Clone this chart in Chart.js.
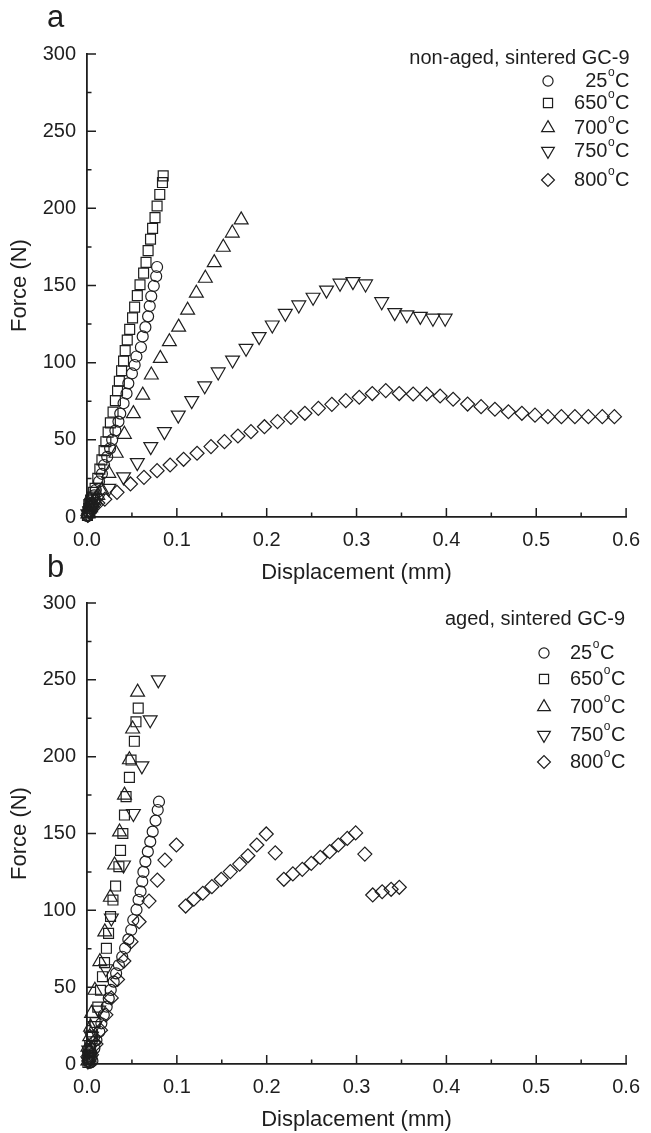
<!DOCTYPE html>
<html lang="en">
<head>
<meta charset="UTF-8">
<title>Force vs displacement, sintered GC-9</title>
<script src="https://cdn.jsdelivr.net/npm/chart.js"></script>
<style>
  body { margin: 0; background: #fff; width: 651px; height: 1133px; position: relative; overflow: hidden; }
  .panel { position: absolute; left: 0; width: 651px; }
  #wrapA { top: 0; height: 600px; }
  #wrapB { top: 540px; height: 593px; }
</style>
</head>
<body>
<div class="panel" id="wrapA"><canvas id="chartA"></canvas></div>
<div class="panel" id="wrapB"><canvas id="chartB"></canvas></div>

<script>
// series names and tick labels
const temps = ['25', '650', '700', '750', '800'];
const xTicks = [0, 0.1, 0.2, 0.3, 0.4, 0.5, 0.6];
const yTicks = [0, 50, 100, 150, 200, 250, 300];

// panel a: non-aged, [displacement mm, force N]
const a25 = [[0.0005,0.5],[0.001,1],[0.002,3],[0.003,6.7],[0.004,4],[0.005,9],[0.006,12],[0.008,14],[0.0098,17.5],[0.0134,23],[0.0166,28],[0.019,33.7],[0.0225,39],[0.0257,44.5],[0.028,50],[0.0316,56],[0.035,61.8],[0.037,67],[0.0407,73.7],[0.044,80],[0.046,86.6],[0.05,93],[0.053,98.5],[0.055,104],[0.06,110],[0.062,117],[0.065,123],[0.068,130],[0.0698,136.7],[0.0715,143],[0.0743,149.7],[0.077,156],[0.078,162]];
const a650 = [[0.0005,1],[0.001,3],[0.002,5.5],[0.002,8],[0.003,8.9],[0.004,11],[0.006,13],[0.007,16],[0.009,18.6],[0.012,25],[0.0143,31],[0.0166,37],[0.019,43],[0.021,48.8],[0.0235,55],[0.026,61],[0.029,68],[0.0316,75.4],[0.034,81.8],[0.036,88],[0.0385,94.8],[0.0407,101],[0.0425,107.8],[0.0448,114.7],[0.0475,121.6],[0.0507,129],[0.053,136],[0.056,143.5],[0.059,150.5],[0.063,158],[0.0657,165],[0.068,172.6],[0.0707,180],[0.073,187],[0.0757,194],[0.078,201.5],[0.081,209],[0.084,216.7],[0.0848,221]];
const a700 = [[0.001,2],[0.002,5],[0.004,6],[0.006,9],[0.009,11],[0.012,14],[0.0166,17.5],[0.0243,28.3],[0.0325,41.3],[0.0416,53.6],[0.0516,67],[0.062,79],[0.0716,92],[0.0816,102.8],[0.0917,113.6],[0.102,123],[0.112,134],[0.1217,145],[0.1317,154.7],[0.1416,164.8],[0.1517,174.8],[0.1617,184],[0.1716,192.5]];
const a750 = [[0.001,2],[0.003,4],[0.005,6],[0.008,9],[0.012,12],[0.0243,18.6],[0.0407,26],[0.056,35.2],[0.071,45.6],[0.0862,55.3],[0.1016,66],[0.1166,75.4],[0.131,85],[0.146,94],[0.162,101.7],[0.177,109.3],[0.1916,116.9],[0.2062,124.4],[0.2207,132],[0.2357,137.4],[0.2516,142.4],[0.2666,147],[0.2816,151.5],[0.296,152.5],[0.31,151],[0.328,139.5],[0.3425,132.4],[0.356,131],[0.371,130],[0.385,128.8],[0.3986,128.8]];
const a800 = [[0.001,1],[0.003,3],[0.005,5],[0.0075,7.8],[0.012,9],[0.0198,11.5],[0.0334,16],[0.0484,21.4],[0.0634,25.7],[0.078,30],[0.0925,33.7],[0.1075,37.4],[0.1225,41.3],[0.138,45.6],[0.153,48.8],[0.168,52.5],[0.1825,55.3],[0.1975,58.5],[0.212,61.8],[0.227,64.6],[0.2425,67.2],[0.2575,70.4],[0.2725,73],[0.288,75.4],[0.303,77.6],[0.3175,80],[0.3325,81.9],[0.3475,80],[0.363,79.7],[0.378,79.7],[0.393,78.4],[0.4075,76.3],[0.4236,73.2],[0.4386,71.5],[0.454,69.8],[0.469,68.2],[0.484,67.2],[0.4986,66],[0.513,65],[0.528,65],[0.543,65],[0.558,65],[0.5735,65],[0.587,65]];

// panel b: aged
const b25 = [[0.001,2],[0.0023,0.7],[0.003,3],[0.004,1],[0.005,4.8],[0.006,2],[0.0082,10.2],[0.0105,15.6],[0.0137,21],[0.016,26.5],[0.0187,31.9],[0.0219,37.3],[0.0242,42.7],[0.0264,48.2],[0.0297,53.6],[0.0324,59],[0.0355,64.4],[0.0392,69.8],[0.0424,75.3],[0.046,81.1],[0.0492,87.2],[0.0515,93.7],[0.0551,100.4],[0.0574,106.9],[0.0596,112.3],[0.0615,118.8],[0.0628,125],[0.065,131.7],[0.0677,138.2],[0.0704,144.7],[0.0731,151.2],[0.0763,158.4],[0.0787,165.3],[0.0801,170.7]];
const b650 = [[0.001,1],[0.001,6],[0.002,4],[0.003,12],[0.004,10],[0.006,18],[0.009,27],[0.012,37],[0.015,48],[0.0172,56.8],[0.0195,66],[0.0216,75.3],[0.024,85],[0.0262,96],[0.0289,106.7],[0.0318,115.8],[0.0355,128.4],[0.0373,139],[0.0399,150],[0.0417,162],[0.0435,174],[0.0472,186.5],[0.049,197.8],[0.0527,210],[0.0545,222.7],[0.057,231.6]];
const b700 = [[0.001,2],[0.001,11],[0.002,8],[0.003,17.8],[0.004,24],[0.0051,33],[0.0088,48],[0.0143,66.6],[0.0198,86],[0.026,108.5],[0.0307,129.5],[0.0362,151],[0.0417,175],[0.0472,198],[0.0508,218],[0.0563,242]];
const b750 = [[0.001,2],[0.002,9],[0.003,5],[0.005,18],[0.007,15],[0.009,25],[0.013,35],[0.021,62],[0.0271,95],[0.0406,129.5],[0.0516,163],[0.0611,194],[0.0703,224],[0.0794,250]];
const b800 = [[0.002,2],[0.003,8],[0.005,6],[0.007,14],[0.01,13],[0.015,22],[0.021,32],[0.027,43],[0.034,55],[0.041,67],[0.049,79.6],[0.058,92.6],[0.069,106],[0.0783,119.7],[0.0867,132.7],[0.0995,142.5],[0.1098,102.8],[0.1189,107.2],[0.1289,111.1],[0.139,115.4],[0.1494,120.2],[0.1595,125.2],[0.1699,130.1],[0.1791,135.5],[0.189,142.5],[0.1995,149.7],[0.2095,137.4],[0.2191,120.2],[0.2291,123.7],[0.2396,126.7],[0.2496,130.6],[0.2596,134.5],[0.2701,138.2],[0.2797,142.5],[0.2897,146.8],[0.299,150.4],[0.3092,136.6],[0.318,110],[0.3285,112.1],[0.3385,113.7],[0.3476,115]];

const ink = '#1e1e1e';
const FONT = "'Liberation Sans', Arial, sans-serif";
const markers = [
    {pointStyle: 'circle', radius: 5.5, rotation: 0},
    {pointStyle: 'rect', radius: 7, rotation: 0},
    {pointStyle: 'triangle', radius: 8, rotation: 0},
    {pointStyle: 'triangle', radius: 8, rotation: 180},
    {pointStyle: 'rectRot', radius: 7, rotation: 0}
];

function makeDatasets(series) {
    return series.map((pts, i) => ({
        label: temps[i] + '°C',
        data: pts.map(p => ({x: p[0], y: p[1]})),
        pointStyle: markers[i].pointStyle,
        pointRadius: markers[i].radius,
        pointRotation: markers[i].rotation,
        pointBorderWidth: 1.2,
        pointBorderColor: ink,
        pointBackgroundColor: 'rgba(0,0,0,0)',
        showLine: false,
        clip: false
    }));
}

// inward major + minor ticks, panel letter, legend
const decor = {
    id: 'decor',
    afterDraw(chart, args, o) {
        const ctx = chart.ctx;
        const xs = chart.scales.x, ys = chart.scales.y;
        ctx.save();
        ctx.strokeStyle = ink;
        ctx.lineWidth = 1.5;
        ctx.beginPath();
        for (let k = 0; k <= 12; k++) {
            const px = xs.getPixelForValue(k * 0.05);
            const len = k % 2 === 0 ? 9 : 4.5;
            ctx.moveTo(px, ys.bottom);
            ctx.lineTo(px, ys.bottom - len);
        }
        for (let k = 0; k <= 12; k++) {
            const py = ys.getPixelForValue(k * 25);
            const len = k % 2 === 0 ? 9 : 4.5;
            ctx.moveTo(xs.left, py);
            ctx.lineTo(xs.left + len, py);
        }
        ctx.stroke();

        ctx.fillStyle = ink;
        ctx.textBaseline = 'alphabetic';
        ctx.textAlign = 'left';
        ctx.font = '31px ' + FONT;
        ctx.fillText(o.letter, o.letterX, o.letterY);

        // legend: title right aligned, rows aligned per panel
        ctx.font = '20px ' + FONT;
        ctx.textBaseline = 'middle';
        ctx.textAlign = 'right';
        ctx.fillText(o.title, o.titleX, o.titleY);
        ctx.textAlign = 'left';
        chart.data.datasets.forEach((ds, i) => {
            const y = o.rows[i];
            ctx.strokeStyle = ink;
            ctx.fillStyle = 'rgba(0,0,0,0)';
            ctx.lineWidth = 1.2;
            Chart.helpers.drawPoint(ctx, {pointStyle: markers[i].pointStyle, radius: markers[i].radius * 0.92,
                rotation: markers[i].rotation, borderWidth: 1.2}, o.markX, y);
            ctx.fillStyle = ink;
            const num = temps[i];
            ctx.font = '20px ' + FONT;
            const wC = ctx.measureText('C').width;
            const wN = ctx.measureText(num).width;
            ctx.font = '12px ' + FONT;
            const wO = ctx.measureText('o').width;
            const start = o.rowAlign === 'right' ? o.textX - wC - wO - wN - 1 : o.textX;
            ctx.font = '20px ' + FONT;
            ctx.fillText(num, start, y);
            ctx.font = '12px ' + FONT;
            ctx.fillText('o', start + wN + 0.5, y - 8);
            ctx.font = '20px ' + FONT;
            ctx.fillText('C', start + wN + wO + 1, y);
        });
        ctx.restore();
    }
};

function makeChart(id, series, top, padBottom, deco) {
    return new Chart(document.getElementById(id), {
        type: 'scatter',
        data: {datasets: makeDatasets(series)},
        options: {
            responsive: true,
            maintainAspectRatio: false,
            animation: false,
            layout: {padding: {top: top, right: 17, bottom: padBottom, left: 0}},
            scales: {
                x: {
                    type: 'linear', min: 0, max: 0.6,
                    afterFit: s => { s.height = 69; },
                    afterBuildTicks: s => { s.ticks = xTicks.map(v => ({value: v})); },
                    grid: {display: false, drawTicks: false},
                    border: {display: true, color: ink, width: 1.8},
                    ticks: {padding: 11, color: ink, font: {family: FONT, size: 20},
                        callback: v => Number(v).toFixed(1), maxRotation: 0, autoSkip: false},
                    title: {display: true, text: 'Displacement (mm)', color: ink, padding: 0,
                        font: {family: FONT, size: 22}}
                },
                y: {
                    type: 'linear', min: 0, max: 300,
                    afterFit: s => { s.width = 87; },
                    afterBuildTicks: s => { s.ticks = yTicks.map(v => ({value: v})); },
                    grid: {display: false, drawTicks: false},
                    border: {display: true, color: ink, width: 1.8},
                    ticks: {padding: 11, color: ink, font: {family: FONT, size: 20}, autoSkip: false},
                    title: {display: true, text: 'Force (N)', color: ink, padding: {top: 7, bottom: 0},
                        font: {family: FONT, size: 22}}
                }
            },
            plugins: {
                legend: {display: false},
                tooltip: {enabled: false},
                decor: deco
            }
        },
        plugins: [decor]
    });
}

makeChart('chartA', [a25, a650, a700, a750, a800], 54, 14, {
    letter: 'a', letterX: 47, letterY: 27,
    title: 'non-aged, sintered GC-9', titleX: 629.5, titleY: 58,
    markX: 548, textX: 629.5, rowAlign: 'right', rows: [81, 103, 128, 151, 180]
});
makeChart('chartB', [b25, b650, b700, b750, b800], 63, 0, {
    letter: 'b', letterX: 47, letterY: 37,
    title: 'aged, sintered GC-9', titleX: 625, titleY: 79,
    markX: 544, textX: 570, rowAlign: 'left', rows: [113, 139, 167, 195, 222]
});
</script>
</body>
</html>
